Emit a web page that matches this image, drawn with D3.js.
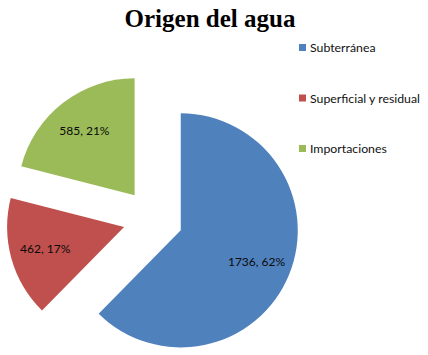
<!DOCTYPE html>
<html>
<head>
<meta charset="utf-8">
<script src="https://cdn.jsdelivr.net/npm/d3@7"></script>
<style>
  body { margin: 0; background: #fff; }
</style>
</head>
<body>
<script>
const categories = ["Subterránea", "Superficial y residual", "Importaciones"];
const values = [1736, 462, 585];
const percents = ["62%", "17%", "21%"];
const colors = ["#4F81BD", "#C0504D", "#9BBB59"];

const width = 428, height = 355;
const cx = 153, cy = 219, radius = 117, explode = 30;

const svg = d3.select("body").append("svg")
  .attr("width", width)
  .attr("height", height);

svg.append("text")
  .attr("x", 210)
  .attr("y", 27)
  .attr("text-anchor", "middle")
  .attr("font-family", "Liberation Serif, serif")
  .attr("font-weight", "bold")
  .attr("font-size", 25)
  .text("Origen del agua");

const pie = d3.pie().sort(null).value(d => d);
const arcs = pie(values);
const arc = d3.arc().innerRadius(0).outerRadius(radius);
const labelArc = d3.arc().innerRadius(radius * 0.7).outerRadius(radius * 0.7);

const offset = d => {
  const a = (d.startAngle + d.endAngle) / 2;
  return [Math.sin(a) * explode, -Math.cos(a) * explode];
};

const g = svg.append("g").attr("transform", `translate(${cx},${cy})`);

const slice = g.selectAll("g.slice")
  .data(arcs)
  .join("g")
  .attr("class", "slice")
  .attr("transform", d => `translate(${offset(d)})`);

slice.append("path")
  .attr("d", arc)
  .attr("fill", (d, i) => colors[i]);

slice.append("text")
  .attr("transform", d => `translate(${labelArc.centroid(d)})`)
  .attr("text-anchor", "middle")
  .attr("dy", "0.35em")
  .attr("font-family", "Lato, sans-serif")
  .attr("font-size", 12)
  .attr("fill", "#0a0a0a")
  .text((d, i) => `${values[i]}, ${percents[i]}`);

const legend = svg.append("g")
  .selectAll("g")
  .data(categories)
  .join("g")
  .attr("transform", (d, i) => `translate(299,${48 + i * 50.5})`);

legend.append("rect")
  .attr("x", 0).attr("y", -4)
  .attr("width", 7).attr("height", 7)
  .attr("fill", (d, i) => colors[i]);

legend.append("text")
  .attr("x", 11)
  .attr("dy", "0.35em")
  .attr("font-family", "Lato, sans-serif")
  .attr("font-size", 12.3)
  .attr("fill", "#111")
  .text(d => d);
</script>
</body>
</html>
